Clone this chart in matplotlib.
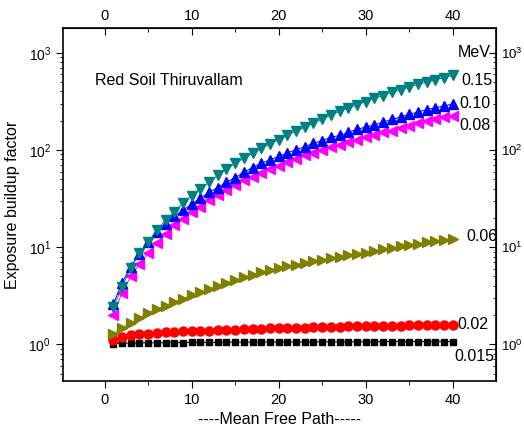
import numpy as np
import matplotlib
matplotlib.use("Agg")
import matplotlib.pyplot as plt

plt.rcParams['font.family'] = ['Liberation Sans', 'DejaVu Sans']

# mean free path
mfp = list(range(1, 41))

# exposure buildup factors, one list per energy (MeV)
b_015 = [1.02, 1.03, 1.03, 1.035, 1.04, 1.04, 1.04, 1.045, 1.045, 1.05,
         1.05, 1.05, 1.05, 1.055, 1.055, 1.055, 1.055, 1.06, 1.06, 1.06,
         1.06, 1.06, 1.06, 1.06, 1.065, 1.065, 1.065, 1.065, 1.065, 1.065,
         1.065, 1.07, 1.07, 1.07, 1.07, 1.07, 1.07, 1.07, 1.07, 1.07]
b_02 = [1.12, 1.2, 1.24, 1.27, 1.29, 1.31, 1.33, 1.34, 1.36, 1.37,
        1.38, 1.39, 1.40, 1.41, 1.42, 1.43, 1.44, 1.45, 1.46, 1.47,
        1.48, 1.49, 1.49, 1.50, 1.51, 1.51, 1.52, 1.53, 1.53, 1.54,
        1.54, 1.55, 1.56, 1.56, 1.57, 1.57, 1.58, 1.58, 1.59, 1.59]
b_06 = [1.27, 1.48, 1.66, 1.87, 2.11, 2.32, 2.5, 2.73, 2.96, 3.2,
        3.43, 3.71, 3.95, 4.27, 4.6, 4.9, 5.2, 5.5, 5.8, 6.1,
        6.35, 6.6, 6.9, 7.15, 7.4, 7.7, 7.95, 8.25, 8.5, 8.8,
        9.15, 9.5, 9.85, 10.2, 10.6, 10.9, 11.2, 11.5, 11.8, 12.1]
b_08 = [2.03, 3.4, 5.0, 6.7, 8.7, 11.0, 13.7, 16.9, 19.7, 23.2,
        26.0, 30.5, 34.3, 38.6, 43.4, 48.8, 52.8, 57.5, 63.5, 69.0,
        75.0, 81.0, 88.0, 93.0, 100.0, 107.0, 113.0, 120.0, 127.0, 135.0,
        144.0, 152.0, 158.0, 168.0, 178.0, 188.0, 197.0, 209.0, 217.0, 225.0]
b_10 = [2.6, 4.3, 6.3, 8.6, 11.2, 14.2, 17.3, 20.7, 24.0, 27.7,
        32.0, 36.8, 41.0, 46.5, 52.0, 59.0, 66.0, 73.0, 79.0, 86.0,
        93.0, 101.0, 108.0, 117.0, 125.0, 135.0, 141.0, 152.0, 163.0, 172.0,
        181.0, 193.0, 206.0, 218.0, 232.0, 245.0, 260.0, 272.0, 283.0, 298.0]
b_15 = [2.4, 3.9, 6.1, 8.7, 11.3, 15.0, 19.0, 23.0, 28.5, 34.0,
        40.0, 46.5, 55.0, 63.0, 73.0, 82.0, 92.0, 104.0, 115.0, 128.0,
        141.0, 156.0, 171.0, 189.0, 207.0, 228.0, 250.0, 270.0, 290.0, 315.0,
        340.0, 362.0, 393.0, 416.0, 446.0, 475.0, 500.0, 525.0, 555.0, 585.0]

energies = ["0.015", "0.02", "0.06", "0.08", "0.10", "0.15"]

fig = plt.figure(figsize=(5.24, 4.36), dpi=100)
ax = fig.add_axes([0.120, 0.126, 0.827, 0.810])

ax.plot(mfp, b_015, color='black', marker='s', ms=5, lw=0.7)
ax.plot(mfp, b_02, color='red', marker='o', ms=6.5, lw=0.7)
ax.plot(mfp, b_06, color='#808000', marker='>', ms=7.5, lw=0.7)
ax.plot(mfp, b_08, color='#ff00ff', marker='<', ms=7.5, lw=0.7)
ax.plot(mfp, b_10, color='#0000ff', marker='^', ms=7.5, lw=0.7)
ax.plot(mfp, b_15, color='#008080', marker='v', ms=7.5, lw=0.7)

ax.set_yscale('log')
ax.set_xlim(-4.8, 45)
ax.set_ylim(0.42, 1800)

ax.set_xticks([0, 10, 20, 30, 40])
ax.set_xticks([5, 15, 25, 35], minor=True)
ax.tick_params(axis='x', which='both', direction='out', labelsize=10.5)
ax.tick_params(axis='x', which='major', length=5)
ax.tick_params(axis='x', which='minor', length=3)
ax.tick_params(axis='y', which='both', direction='out', labelsize=10)
ax.tick_params(axis='y', which='major', length=5)
ax.tick_params(axis='y', which='minor', length=2.5)

top = ax.secondary_xaxis('top')
top.set_xticks([0, 10, 20, 30, 40])
top.set_xticks([5, 15, 25, 35], minor=True)
top.tick_params(which='both', direction='in', labelsize=10.5)
top.tick_params(which='major', length=5)
top.tick_params(which='minor', length=3)

right = ax.secondary_yaxis('right')
right.tick_params(which='both', direction='in', labelsize=9.5)
right.tick_params(which='major', length=5)
right.tick_params(which='minor', length=2.5)

for s in ax.spines.values():
    s.set_linewidth(1.2)

ax.set_xlabel('----Mean Free Path-----', fontsize=11.5)
ax.set_ylabel('Exposure buildup factor', fontsize=11.5, labelpad=6)

ax.text(-1.1, 520, 'Red Soil Thiruvallam', fontsize=11.5, va='center')
ax.text(40.6, 1000, 'MeV', fontsize=11.5, va='center')

ends = [b_015, b_02, b_06, b_08, b_10, b_15]
xs = [40.2, 40.5, 41.6, 40.8, 40.8, 41.0]
ratios = [0.70, 1.0, 1.07, 0.8, 1.0, 0.88]
for lab, vals, xp, r in zip(energies, ends, xs, ratios):
    ax.text(xp, vals[-1] * r, lab, fontsize=11.5, va='center')

fig.savefig('out.png', dpi=100)
